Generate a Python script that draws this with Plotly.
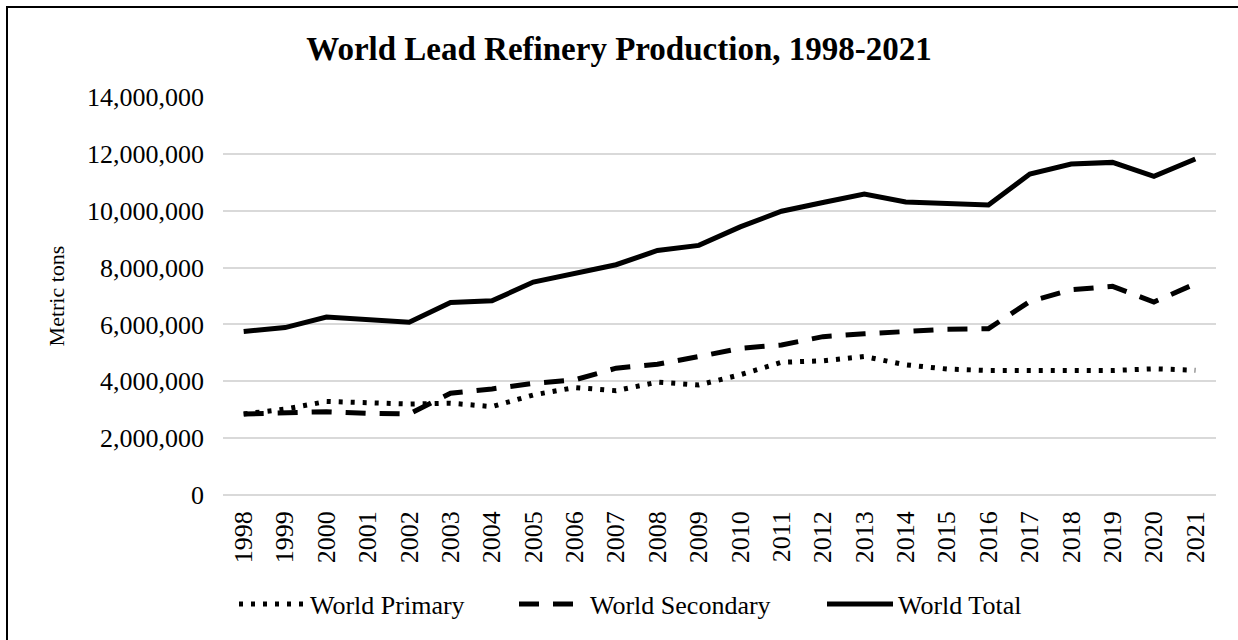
import plotly.graph_objects as go

years = [str(y) for y in range(1998, 2022)]
world_primary = [2850000, 3020000, 3290000, 3250000, 3200000, 3230000, 3110000, 3520000,
                 3780000, 3670000, 3970000, 3870000, 4230000, 4670000, 4720000, 4870000,
                 4580000, 4430000, 4380000, 4380000, 4390000, 4380000, 4440000, 4390000]
world_secondary = [2850000, 2880000, 2930000, 2870000, 2850000, 3580000, 3730000, 3930000,
                   4050000, 4460000, 4600000, 4870000, 5160000, 5280000, 5570000, 5670000,
                   5760000, 5830000, 5850000, 6810000, 7220000, 7340000, 6790000, 7430000]
world_total = [5750000, 5890000, 6260000, 6160000, 6080000, 6770000, 6830000, 7490000,
               7810000, 8100000, 8600000, 8780000, 9430000, 9980000, 10290000, 10590000,
               10310000, 10270000, 10200000, 11290000, 11640000, 11700000, 11210000, 11820000]

FONT = "Liberation Serif"
L, R, T, B = 223, 22, 97, 145
W, H = 1238, 640
PW, PH = W - L - R, H - T - B


def px_x(p):
    return (p - L) / PW


def px_y(p):
    return (H - B - p) / PH


fig = go.Figure()
fig.add_trace(go.Scatter(x=years, y=world_primary, mode="lines", name="World Primary",
                         legend="legend",
                         line=dict(color="black", width=5, dash="4px,8px")))
fig.add_trace(go.Scatter(x=years, y=world_secondary, mode="lines", name="World Secondary",
                         legend="legend2",
                         line=dict(color="black", width=5, dash="20px,14px")))
fig.add_trace(go.Scatter(x=years, y=world_total, mode="lines", name="World Total",
                         legend="legend3",
                         line=dict(color="black", width=5)))

leg_common = dict(orientation="h", yanchor="middle", y=px_y(604), xanchor="left",
                  font=dict(family=FONT, size=26, color="black"),
                  bgcolor="rgba(0,0,0,0)", itemwidth=66)

fig.update_layout(
    width=W, height=H,
    margin=dict(l=L, r=R, t=T, b=B),
    paper_bgcolor="white", plot_bgcolor="white",
    font=dict(family=FONT, color="black", size=26),
    title=dict(text="<b>World Lead Refinery Production, 1998-2021</b>",
               x=0.5, xanchor="center", y=0.925, yanchor="middle",
               font=dict(family=FONT, size=33, color="black")),
    showlegend=True,
    legend=dict(x=px_x(234), **leg_common),
    legend2=dict(x=px_x(514), **leg_common),
    legend3=dict(x=px_x(822), **leg_common),
    shapes=[dict(type="rect", xref="paper", yref="paper",
                 x0=px_x(7), y0=px_y(7), x1=px_x(1420), y1=px_y(900),
                 line=dict(color="black", width=2), fillcolor="rgba(0,0,0,0)", layer="below")],
)
fig.update_xaxes(type="category", tickangle=-90, showgrid=False, showline=False,
                 ticks="", ticklabelstandoff=10,
                 tickfont=dict(family=FONT, size=26), range=[-0.5, 23.5])
fig.update_yaxes(range=[0, 14000000], dtick=2000000, tickformat=",d",
                 showgrid=True, gridcolor="#d9d9d9", gridwidth=1.5,
                 zeroline=True, zerolinecolor="#d9d9d9", zerolinewidth=1.5,
                 showline=False, ticks="", ticklabelstandoff=18,
                 tickfont=dict(family=FONT, size=26),
                 title=dict(text="Metric tons", standoff=16, font=dict(family=FONT, size=22)))

fig.write_html("out.html")
